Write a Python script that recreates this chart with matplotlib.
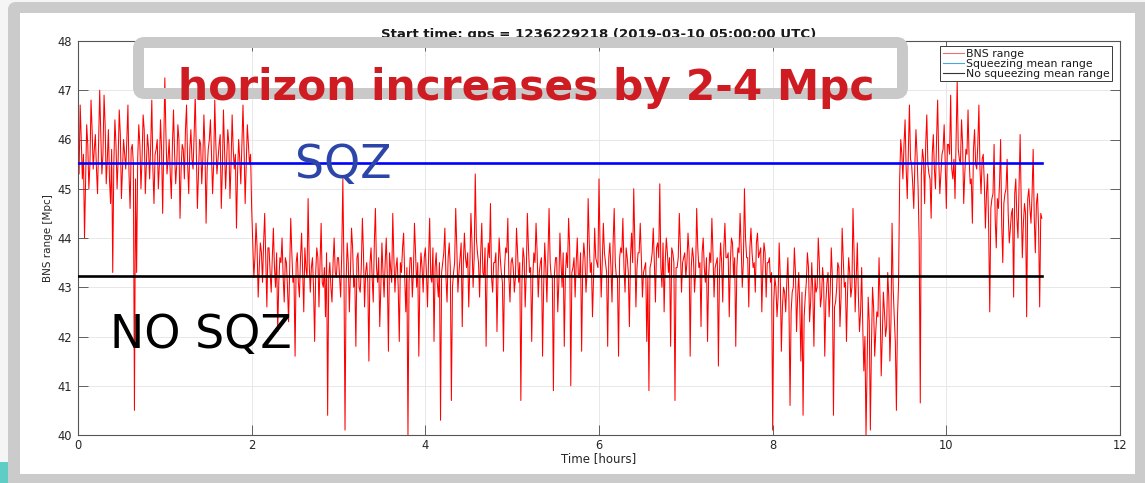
import numpy as np
import matplotlib
matplotlib.use("Agg")
import matplotlib.pyplot as plt
from matplotlib.patches import FancyBboxPatch, Rectangle
from matplotlib.lines import Line2D

# BNS range samples [Mpc]; the main samples are 0.025 h apart and each
# "_mid" list holds the sample taken halfway to the next one.
SAMPLE_STEP_H = 0.0125

# squeezer on: 0.0 - 1.9875 h
range_sqz_start = [
    45.8, 46.7, 45.2, 44.0, 46.3, 45.0, 46.8, 45.4, 46.1, 44.9,
    47.0, 45.3, 46.9, 45.1, 46.2, 44.7, 43.3, 46.4, 45.0, 46.6,
    44.8, 46.0, 45.4, 46.7, 44.6, 45.9, 40.5, 43.3, 46.3, 45.0,
    46.5, 44.9, 46.1, 45.2, 46.8, 44.7, 45.8, 45.0, 46.4, 44.5,
    47.25, 45.3, 46.0, 44.8, 46.6, 45.1, 46.3, 44.4, 45.9, 45.2,
    46.7, 44.9, 46.2, 45.4, 46.9, 44.6, 46.0, 45.1, 46.5, 44.3,
    45.8, 46.4, 44.9, 46.8, 45.3, 45.9, 44.6, 46.6, 45.0, 46.2,
    44.8, 46.5, 45.4, 44.2, 46.0, 45.1, 46.7, 44.7, 46.3, 45.5,
]
range_sqz_start_mid = [
    45.3, 46.0, 45.7, 45.1, 45.9, 45.5, 46.2, 45.8, 45.4, 45.9,
    46.1, 45.7, 46.3, 45.6, 45.2, 45.8, 45.5, 45.9, 45.6, 46.1,
    45.4, 45.7, 46.0, 45.3, 45.8, 45.5, 45.2, 45.6, 45.9, 45.6,
    46.2, 45.5, 45.8, 45.9, 45.4, 45.7, 46.0, 45.5, 45.8, 45.9,
    46.1, 45.6, 45.3, 45.9, 45.7, 45.5, 46.0, 45.4, 45.8, 46.2,
    45.5, 45.8, 45.6, 46.1, 45.7, 45.3, 45.9, 45.6, 45.8, 45.4,
    46.0, 45.7, 45.5, 45.9, 45.6, 46.1, 45.4, 45.8, 45.6, 45.9,
    45.5, 45.8, 45.7, 45.3, 45.6, 45.9, 45.8, 45.5, 45.9, 45.7,
]

# squeezer off: 2.0 - 9.4625 h
range_nosqz = [
    # 2 h
    44.6, 43.2, 44.3, 42.8, 43.9, 43.1, 44.5, 42.6, 43.8, 42.9,
    44.2, 43.0, 42.1, 43.6, 44.0, 42.7, 43.5, 42.3, 44.4, 43.1,
    41.6, 43.7, 42.8, 44.1, 42.5, 43.4, 44.8, 42.9, 43.6, 41.9,
    43.8, 42.6, 44.3, 43.0, 42.4, 40.4, 43.5, 42.7, 44.0, 43.2,
    # 3 h
    43.6, 42.8, 45.2, 40.1, 43.9, 42.5, 44.2, 43.0, 41.8, 43.7,
    42.9, 44.4, 42.6, 43.5, 41.5, 43.8, 42.7, 44.6, 43.1, 42.2,
    43.9, 42.8, 44.0, 41.7, 43.4, 44.5, 42.9, 43.6, 41.9, 43.3,
    44.1, 42.5, 40.0, 43.6, 42.8, 44.3, 43.0, 41.6, 43.7, 42.9,
    # 4 h
    43.8, 42.6, 44.4, 43.1, 41.9, 43.7, 42.8, 40.3, 43.5, 44.2,
    42.7, 43.9, 40.7, 43.3, 44.6, 42.9, 43.6, 42.2, 44.1, 43.4,
    42.6, 44.5, 43.0, 45.3, 43.7, 42.8, 44.3, 43.2, 41.8, 43.9,
    44.7, 42.9, 43.5, 42.1, 44.0, 43.3, 41.7, 43.8, 44.4, 42.7,
    # 5 h
    43.6, 42.9, 44.2, 43.1, 40.7, 43.8, 42.6, 44.5, 43.3, 41.9,
    43.7, 44.3, 42.8, 43.5, 41.6, 43.9, 42.7, 44.6, 43.2, 40.9,
    43.6, 42.5, 44.1, 43.0, 41.8, 43.7, 44.4, 41.0, 43.4, 42.8,
    44.0, 43.2, 41.7, 43.9, 42.9, 44.8, 43.3, 42.4, 44.2, 43.5,
    # 6 h
    45.2, 42.8, 44.3, 43.5, 41.8, 43.9, 42.7, 44.6, 43.2, 41.6,
    43.8, 44.4, 42.9, 43.6, 42.2, 44.1, 45.0, 42.6, 43.7, 44.3,
    42.8, 43.4, 41.9, 40.9, 43.5, 44.2, 42.7, 43.9, 45.1, 43.0,
    42.5, 44.0, 43.3, 41.8, 43.7, 40.7, 43.4, 44.5, 42.9, 43.6,
    # 7 h
    43.2, 44.1, 41.6, 43.8, 42.9, 44.6, 43.4, 42.2, 44.0, 43.1,
    41.9, 43.7, 44.4, 42.8, 43.5, 41.4, 43.9, 42.7, 44.3, 43.6,
    42.4, 44.0, 43.2, 41.8, 43.8, 44.5, 43.0, 45.0, 43.6, 42.6,
    44.2, 43.4, 42.9, 44.1, 43.7, 42.5, 43.9, 42.8, 43.5, 43.1,
    # 8 h
    40.1, 43.2, 42.4, 43.9, 41.7, 43.0, 42.5, 43.6, 40.6, 42.9,
    43.8, 42.1, 43.3, 41.5, 40.4, 42.8, 43.7, 42.3, 43.5, 41.8,
    42.9, 44.0, 42.6, 43.4, 41.6, 43.1, 42.4, 43.8, 40.4, 42.7,
    43.5, 42.2, 44.2, 43.0, 41.9, 43.6, 42.8, 44.6, 42.5, 43.9,
    # 9 h
    42.1, 43.4, 41.3, 40.0, 42.8, 40.1, 43.0, 41.6, 42.5, 43.6,
    41.2, 42.9, 42.0, 43.3, 41.5, 44.3, 42.4, 40.5, 43.1,
]
range_nosqz_mid = [
    # 2 h
    43.9, 43.6, 43.8, 43.4, 43.7, 43.9, 43.5, 43.8, 43.3, 43.6,
    43.4, 43.7, 43.1, 43.5, 43.2, 43.6, 43.0, 43.4, 43.7, 43.2,
    43.5, 43.1, 43.6, 43.3, 43.8, 43.2, 43.5, 43.4, 43.0, 43.3,
    43.6, 43.5, 43.1, 43.4, 43.7, 43.2, 43.0, 43.5, 43.3, 43.6,
    # 3 h
    43.2, 43.7, 43.4, 43.1, 43.5, 43.3, 43.8, 43.2, 43.6, 43.0,
    43.4, 43.7, 43.3, 43.1, 43.5, 43.2, 43.9, 43.4, 43.6, 43.0,
    43.3, 43.5, 43.2, 43.7, 43.1, 43.6, 43.4, 43.0, 43.5, 43.8,
    43.2, 43.4, 43.1, 43.6, 43.3, 43.7, 43.5, 43.2, 43.4, 43.6,
    # 4 h
    43.3, 43.6, 43.2, 43.8, 43.4, 43.1, 43.5, 43.3, 43.7, 43.2,
    43.6, 43.4, 43.0, 43.5, 43.8, 43.3, 43.9, 43.5, 43.6, 43.7,
    43.4, 43.9, 43.6, 44.0, 43.5, 43.7, 43.3, 43.8, 43.4, 43.6,
    43.2, 43.5, 43.7, 43.3, 43.6, 43.1, 43.4, 43.7, 43.2, 43.5,
    # 5 h
    43.4, 43.2, 43.7, 43.5, 43.1, 43.6, 43.3, 43.8, 43.4, 43.2,
    43.5, 43.7, 43.3, 43.6, 43.0, 43.4, 43.7, 43.5, 43.2, 43.3,
    43.6, 43.1, 43.5, 43.7, 43.2, 43.4, 43.8, 43.3, 43.6, 43.5,
    43.2, 43.7, 43.4, 43.6, 43.3, 43.9, 43.5, 43.2, 43.6, 43.4,
    # 6 h
    43.8, 43.5, 43.7, 43.3, 43.6, 43.4, 43.9, 43.5, 43.2, 43.6,
    43.7, 43.4, 43.8, 43.3, 43.6, 43.5, 43.9, 43.4, 43.7, 43.6,
    43.3, 43.5, 43.2, 43.4, 43.7, 43.5, 43.8, 43.6, 43.4, 43.9,
    43.5, 43.7, 43.6, 43.8, 43.5, 43.4, 43.6, 43.8, 43.5, 43.7,
    # 7 h
    43.5, 43.7, 43.4, 43.6, 43.3, 43.8, 43.5, 43.7, 43.4, 43.6,
    43.2, 43.5, 43.7, 43.4, 43.6, 43.3, 43.5, 43.8, 43.6, 43.7,
    43.5, 43.9, 43.6, 43.4, 43.7, 43.8, 43.5, 44.0, 43.6, 43.8,
    43.7, 43.5, 43.9, 43.6, 43.8, 43.4, 43.7, 43.5, 43.6, 43.3,
    # 8 h
    42.7, 43.0, 42.8, 43.2, 42.6, 42.9, 43.1, 42.7, 42.5, 43.0,
    43.3, 42.8, 42.6, 42.9, 42.4, 43.1, 43.4, 42.7, 42.9, 43.2,
    43.0, 43.5, 42.8, 43.1, 42.7, 43.3, 42.9, 43.2, 42.6, 43.0,
    43.4, 42.8, 43.6, 43.1, 42.9, 43.3, 43.0, 43.7, 43.2, 42.8,
    # 9 h
    42.5, 42.2, 42.0, 41.4, 42.3, 41.8, 42.6, 42.1, 42.4, 42.7,
    42.0, 42.5, 42.2, 42.8, 42.3, 43.0, 41.9, 42.4, 45.2,
]

# squeezer on again: 9.475 - 11.1 h
range_sqz_end = [
    46.0, 45.2, 46.4, 44.8, 46.7, 45.5, 44.6, 46.2, 45.0, 40.65,
    45.8, 44.7, 46.5, 45.3, 44.4, 46.1, 45.0, 46.8, 44.9, 45.7,
    46.3, 44.6, 45.9, 46.9, 45.2, 44.8, 47.2, 45.6, 46.4, 44.7,
    45.8, 46.6, 45.1, 44.3, 46.2, 45.4, 46.7, 44.9, 45.7, 44.2,
    45.3, 42.5, 44.8, 45.9, 43.8, 44.6, 46.0, 43.5, 44.9, 45.6,
    43.9, 44.5, 42.8, 45.2, 44.0, 46.1, 43.6, 44.7, 42.4, 45.0,
    44.3, 45.8, 43.7, 44.9, 42.6, 44.4,
]
range_sqz_end_mid = [
    45.7, 45.9, 45.4, 45.8, 45.6, 45.1, 45.5, 45.7, 43.9, 45.3,
    45.6, 45.9, 45.5, 45.2, 45.7, 45.4, 46.0, 45.6, 45.3, 45.8,
    45.5, 45.9, 45.7, 45.4, 45.6, 46.0, 45.8, 45.5, 45.9, 45.3,
    45.7, 45.6, 45.2, 45.8, 45.5, 45.9, 45.4, 45.6, 45.1, 44.9,
    44.2, 44.6, 44.9, 44.4, 44.8, 45.1, 44.3, 44.7, 45.0, 44.5,
    44.2, 44.6, 44.9, 44.4, 45.0, 44.7, 44.3, 44.5, 44.8, 44.6,
    44.9, 44.4, 44.7, 44.2, 44.5,
]

sqz_mean = 45.52
nosqz_mean = 43.22
mean_span_h = [0.0, 11.1]

x_ticks = [0, 2, 4, 6, 8, 10, 12]
y_ticks = [40, 41, 42, 43, 44, 45, 46, 47, 48]

title_text = "Start time: gps = 1236229218 (2019-03-10 05:00:00 UTC)"
legend_labels = ["BNS range", "Squeezing mean range", "No squeezing mean range"]


def interleave(main, mid):
    """Merge main samples with the halfway samples that follow them."""
    out = []
    for i, v in enumerate(main):
        out.append(v)
        if i < len(mid):
            out.append(mid[i])
    return out


bns_range = np.array(interleave(range_sqz_start, range_sqz_start_mid)
                     + interleave(range_nosqz, range_nosqz_mid)
                     + interleave(range_sqz_end, range_sqz_end_mid))
time_h = np.arange(bns_range.size) * SAMPLE_STEP_H

W, H = 1145, 483
fig = plt.figure(figsize=(W / 100, H / 100), dpi=100)
fig.patch.set_facecolor("#f5f5f5")

# slide frame (pixel coordinates)
bg = fig.add_axes([0, 0, 1, 1], zorder=0)
bg.set_xlim(0, W)
bg.set_ylim(H, 0)
bg.axis("off")
bg.add_patch(FancyBboxPatch((8, 2), W, H + 10, boxstyle="round,pad=0,rounding_size=8",
                            fc="#cbcbcb", ec="none"))
bg.add_patch(Rectangle((20, 13), 1135 - 20, 474 - 13, fc="white", ec="none"))
bg.add_patch(Rectangle((0, 462), 8, 21, fc="#5ecdc5", ec="none"))

# main plot
ax = fig.add_axes([78 / W, 1 - 435 / H, (1120 - 78) / W, (435 - 41) / H], zorder=1)
ax.set_facecolor("white")
ax.plot(time_h, bns_range, color="#ff0000", lw=0.75, zorder=2)
ax.plot(mean_span_h, [sqz_mean, sqz_mean], color="#0000ff", lw=1.9, zorder=3)
ax.plot(mean_span_h, [nosqz_mean, nosqz_mean], color="black", lw=1.9, zorder=3)

ax.set_xlim(0, 12)
ax.set_ylim(40, 48)
ax.set_xticks(x_ticks)
ax.set_yticks(y_ticks)
ax.grid(True, color="#e4e4e4", lw=0.6)
ax.set_axisbelow(True)
ax.tick_params(direction="in", length=7, width=0.6, colors="#4a4a4a",
               labelcolor="#262626", labelsize=8.3, top=True, right=True)
ax.tick_params(axis="x", pad=3)
ax.tick_params(axis="y", pad=4.5)
for s in ax.spines.values():
    s.set_color("#555555")
    s.set_linewidth(0.8)

ax.set_title(title_text, fontsize=9.6, fontweight="bold", color="#1a1a1a", pad=2.5)
ax.set_xlabel("Time [hours]", fontsize=8.5, color="#262626")
ax.xaxis.set_label_coords(0.5, -(452 - 435) / (435 - 41))
ax.set_ylabel("BNS range [Mpc]", fontsize=7.5, color="#262626")
ax.yaxis.set_label_coords(-(78 - 53) / (1120 - 78), 0.5)

handles = [Line2D([], [], color="#f07070", lw=0.8),
           Line2D([], [], color="#4aa8e0", lw=0.8),
           Line2D([], [], color="#333333", lw=0.8)]
leg = ax.legend(handles, legend_labels, loc="upper right",
                bbox_to_anchor=(1112 / W, 1 - 46 / H), bbox_transform=fig.transFigure,
                borderaxespad=0, fontsize=7.8, labelspacing=0.0, handlelength=2.0,
                handletextpad=0.1, borderpad=0.25, fancybox=False, framealpha=1)
leg.get_frame().set_edgecolor("#3a3a3a")
leg.get_frame().set_linewidth(0.7)
for t in leg.get_texts():
    t.set_color("#1a1a1a")

# annotation layer (pixel coordinates)
ov = fig.add_axes([0, 0, 1, 1], zorder=3)
ov.set_xlim(0, W)
ov.set_ylim(H, 0)
ov.axis("off")
ov.patch.set_alpha(0)
ov.add_patch(FancyBboxPatch((138.5, 42.5), 902.5 - 138.5, 93.5 - 42.5,
                            boxstyle="round,pad=0,rounding_size=6",
                            fc="none", ec="#c9c9c9", lw=11 * 0.72))
ov.text(526.5, 100, "horizon increases by 2-4 Mpc", color="#cf1b22",
        fontsize=30.5, fontweight="bold", ha="center", va="baseline")
ov.text(295, 178, "SQZ", color="#2b46a8", fontsize=33, ha="left", va="baseline")
ov.text(110, 348, "NO SQZ", color="black", fontsize=33, ha="left", va="baseline")

fig.savefig("out.png", dpi=100, facecolor=fig.get_facecolor())
